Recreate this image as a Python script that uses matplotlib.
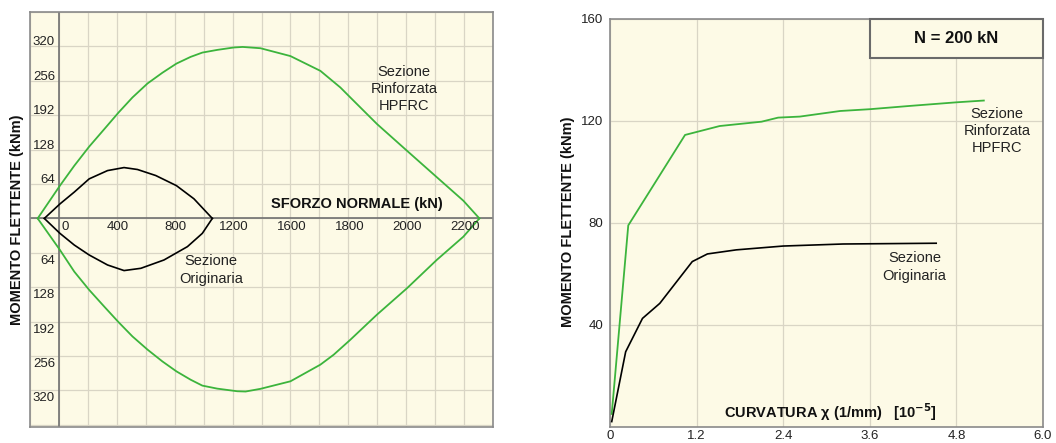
import matplotlib
matplotlib.use("Agg")
import matplotlib.pyplot as plt
from matplotlib.patches import Rectangle
import matplotlib.transforms as mtransforms

plt.rcParams['font.family'] = ['Liberation Sans', 'DejaVu Sans']

# ---------------- data: left panel (interaction domain) ----------------
n_green_up = [-147, 7, 106, 209, 313, 412, 508, 612, 715, 812, 910, 991, 1094, 1209, 1270, 1393,
              1600, 1807, 1945, 2014, 2198, 2405, 2612, 2795, 2906]
m_green_up = [0, 61, 98, 133.6, 166, 197, 225, 251, 271, 288, 300.5, 308.5, 313.5, 318, 319, 316.6,
              302, 274.5, 243.6, 225, 175.7, 126, 76.6, 33, 0]
n_green_dn = [-147, 7, 106, 209, 313, 412, 508, 612, 715, 812, 910, 991, 1094, 1232, 1290, 1393,
              1600, 1807, 1899, 2014, 2198, 2405, 2612, 2795, 2906]
m_green_dn = [0, -58.7, -99, -133, -164, -193, -219.5, -244, -266, -284.5, -300, -311, -316.6, -321.5, -322, -317,
              -303, -272, -253.5, -225.7, -179, -130, -77, -34, 0]
n_black_up = [-101, 7, 106, 209, 336, 450, 543, 669, 812, 933, 1060]
m_black_up = [0, 27, 49, 73.6, 89, 94.6, 91, 79.8, 61, 36.5, 0]
n_black_dn = [-101, 7, 106, 209, 336, 450, 566, 726, 888, 991, 1060]
m_black_dn = [0, -27.8, -49.5, -68, -86.6, -97, -92.8, -77.3, -52.5, -27.8, 0]

left_xtick_pos = [0, 400, 800, 1200, 1600, 2000, 2400, 2800]
left_xtick_lab = ["0", "400", "800", "1200", "1600", "1800", "2000", "2200"]
left_ytick_vals = [64, 128, 192, 256, 320]

# ---------------- data: right panel (moment-curvature, N = 200 kN) ----------------
chi_green = [0.024, 0.253, 1.04, 1.52, 2.10, 2.33, 2.63, 3.19, 3.60, 4.16, 4.80, 5.18]
mom_green = [5, 79, 114.5, 118, 119.7, 121.3, 121.7, 123.9, 124.6, 125.9, 127.3, 128]
chi_black = [0.024, 0.217, 0.45, 0.69, 1.14, 1.35, 1.75, 2.40, 3.23, 4.52]
mom_black = [2, 29.4, 42.5, 48.4, 64.8, 67.8, 69.4, 70.9, 71.7, 72]

right_xticks = [0, 1.2, 2.4, 3.6, 4.8, 6.0]
right_xtick_lab = ["0", "1.2", "2.4", "3.6", "4.8", "6.0"]
right_yticks = [40, 80, 120, 160]

BG = '#fdfae6'
GRID = '#d9d5c5'
FRAME = '#8a8a8a'
AXLINE = '#707070'
GREEN = '#3cb43c'

fig = plt.figure(figsize=(10.56, 4.43), dpi=100)

# ======================= LEFT =======================
axL = fig.add_axes([30/1056, 1-427/443, 463/1056, 415/443])
axL.set_facecolor(BG)
axL.set_xlim(-193, 3000)
axL.set_ylim(-388, 382)
axL.set_xticks(range(-200, 3001, 200))
axL.set_yticks(range(-384, 385, 64))
axL.grid(True, color=GRID, lw=0.9)
axL.tick_params(length=0, labelbottom=False, labelleft=False)
for s in axL.spines.values():
    s.set_color(FRAME)
    s.set_linewidth(1.2)
axL.axvline(0, color=AXLINE, lw=1.2, zorder=2)
axL.axhline(0, color=AXLINE, lw=1.2, zorder=2)

axL.plot(n_green_up, m_green_up, color=GREEN, lw=1.3, zorder=3)
axL.plot(n_green_dn, m_green_dn, color=GREEN, lw=1.3, zorder=3)
axL.plot(n_black_up, m_black_up, color='black', lw=1.2, zorder=3)
axL.plot(n_black_dn, m_black_dn, color='black', lw=1.2, zorder=3)

# y tick labels inside the axes, left of the N = 0 line
for v in left_ytick_vals:
    tr = mtransforms.offset_copy(axL.transData, fig=fig, x=-4, y=4, units='dots')
    axL.text(0, v, str(v), transform=tr, ha='right', va='center', fontsize=9.5, color='#222222')
    tr2 = mtransforms.offset_copy(axL.transData, fig=fig, x=-4, y=-8, units='dots')
    axL.text(0, -v, str(v), transform=tr2, ha='right', va='center', fontsize=9.5, color='#222222')

for p, lab in zip(left_xtick_pos, left_xtick_lab):
    if p == 0:
        tr = mtransforms.offset_copy(axL.transData, fig=fig, x=3, y=-9, units='dots')
        axL.text(p, 0, lab, transform=tr, ha='left', va='center', fontsize=9.5, color='#222222')
    else:
        tr = mtransforms.offset_copy(axL.transData, fig=fig, x=1, y=-9, units='dots')
        axL.text(p, 0, lab, transform=tr, ha='center', va='center', fontsize=9.5, color='#222222')

axL.text(2062, 26, "SFORZO NORMALE (kN)", ha='center', va='center', fontsize=10.5,
         fontweight='bold', color='#111111')
axL.text(2386, 241, "Sezione\nRinforzata\nHPFRC", ha='center', va='center', fontsize=10.5,
         linespacing=1.3, color='#222222')
axL.text(1053, -96, "Sezione\nOriginaria", ha='center', va='center', fontsize=10.5,
         linespacing=1.3, color='#222222')
fig.text(17/1056, 1-220/443, "MOMENTO FLETTENTE (kNm)", rotation=90, ha='center', va='center',
         fontsize=10.5, fontweight='bold', color='#111111')

# ======================= RIGHT =======================
axR = fig.add_axes([610/1056, 1-426.7/443, 433/1056, 407.7/443])
axR.set_facecolor(BG)
axR.set_xlim(0, 6.0)
axR.set_ylim(0, 160)
axR.set_xticks(right_xticks)
axR.set_xticklabels(right_xtick_lab)
axR.set_yticks(right_yticks)
axR.grid(True, color=GRID, lw=0.9)
axR.tick_params(length=0, labelsize=9.5, labelcolor='#222222', pad=5)
axR.tick_params(axis='x', pad=2.5)
for s in axR.spines.values():
    s.set_color(FRAME)
    s.set_linewidth(1.2)

axR.plot(chi_green, mom_green, color=GREEN, lw=1.3, zorder=3)
axR.plot(chi_black, mom_black, color='black', lw=1.2, zorder=3)

axR.add_patch(Rectangle((3.6, 144.85), 2.4, 15.15, facecolor=BG, edgecolor='#6a6a6a',
                        lw=1.5, zorder=4, clip_on=False))
axR.text(4.8, 152.4, "N = 200 kN", ha='center', va='center', fontsize=12,
         fontweight='bold', color='#111111', zorder=5)

axR.text(5.36, 116.1, "Sezione\nRinforzata\nHPFRC", ha='center', va='center', fontsize=10.5,
         linespacing=1.3, color='#222222')
axR.text(4.22, 62.7, "Sezione\nOriginaria", ha='center', va='center', fontsize=10.5,
         linespacing=1.3, color='#222222')
axR.text(3.06, 5.9, "CURVATURA χ (1/mm)   [10$^{\\mathbf{-5}}$]", ha='center', va='center',
         fontsize=10.5, fontweight='bold', color='#111111')
fig.text(568/1056, 1-222/443, "MOMENTO FLETTENTE (kNm)", rotation=90, ha='center', va='center',
         fontsize=10.5, fontweight='bold', color='#111111')

fig.savefig("out.png", dpi=100)
